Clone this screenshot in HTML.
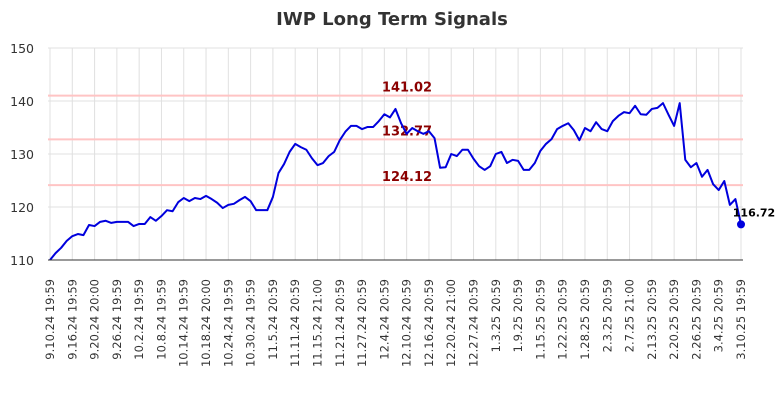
<!DOCTYPE html>
<html><head><meta charset="utf-8"><style>
body{margin:0;background:#fff;}
svg{display:block;font-family:"DejaVu Sans","Liberation Sans",sans-serif;}
</style></head><body>
<svg id="chart" width="784" height="400">
<text x="392" y="25" text-anchor="middle" font-size="18" font-weight="bold" fill="#333">IWP Long Term Signals</text>
<g id="grid"></g><g id="signals"></g><g id="series"></g><g id="axes"></g>
</svg>
<script>
const yTicks=[110,120,130,140,150];
const xLabels=["9.10.24 19:59","9.16.24 19:59","9.20.24 20:00","9.26.24 19:59","10.2.24 19:59","10.8.24 19:59","10.14.24 19:59","10.18.24 20:00","10.24.24 19:59","10.30.24 19:59","11.5.24 20:59","11.11.24 20:59","11.15.24 21:00","11.21.24 20:59","11.27.24 20:59","12.4.24 20:59","12.10.24 20:59","12.16.24 20:59","12.20.24 21:00","12.27.24 20:59","1.3.25 20:59","1.9.25 20:59","1.15.25 20:59","1.22.25 20:59","1.28.25 20:59","2.3.25 20:59","2.7.25 21:00","2.13.25 20:59","2.20.25 20:59","2.26.25 20:59","3.4.25 20:59","3.10.25 19:59"];
const signalValues=[141.02,132.77,124.12];
const prices=[110,111.3,112.3,113.6,114.5,114.9,114.7,116.6,116.4,117.2,117.4,117,117.2,117.2,117.2,116.4,116.8,116.8,118.1,117.4,118.3,119.4,119.2,120.9,121.7,121.1,121.7,121.5,122.1,121.5,120.8,119.8,120.4,120.6,121.3,121.9,121.1,119.4,119.4,119.4,121.9,126.4,128.1,130.4,131.9,131.3,130.8,129.2,127.9,128.3,129.6,130.4,132.6,134.2,135.3,135.3,134.7,135.1,135.1,136.2,137.5,136.9,138.5,135.8,133.8,134.9,134.3,133.8,134.3,133,127.4,127.5,130,129.6,130.8,130.8,129.1,127.7,127,127.7,130,130.4,128.3,128.9,128.7,127,127,128.3,130.6,131.9,132.8,134.7,135.3,135.8,134.5,132.6,134.9,134.3,136,134.7,134.3,136.2,137.2,137.9,137.7,139.1,137.5,137.4,138.5,138.7,139.6,137.4,135.3,139.6,128.9,127.5,128.3,125.7,127,124.3,123.2,124.9,120.4,121.5,116.72];
const X0=50,X1=741,Y0=260,Y1=48,VMIN=110,VMAX=150;
const xi=i=>X0+(X1-X0)*i/(prices.length-1);
const xl=i=>X0+(X1-X0)*i/(xLabels.length-1);
const yv=v=>Y0-(v-VMIN)/(VMAX-VMIN)*(Y0-Y1);
const NS="http://www.w3.org/2000/svg";
function mk(t,a,p){const e=document.createElementNS(NS,t);for(const k in a)e.setAttribute(k,a[k]);p.appendChild(e);return e;}
const grid=document.getElementById('grid'),sig=document.getElementById('signals'),ser=document.getElementById('series'),ax=document.getElementById('axes');
yTicks.forEach(v=>{
 const l=mk('line',{x1:48,x2:743,y1:yv(v),y2:yv(v),stroke:'#e0e0e0','stroke-width':1},grid);
 
 
 const t=mk('text',{x:34,y:yv(v)+5,'text-anchor':'end','font-size':12.5,fill:'#333'},ax);
 t.textContent=v;
 
 
});
xLabels.forEach((s,i)=>{
 const x=xl(i);
 const l=mk('line',{x1:x,x2:x,y1:48,y2:260,stroke:'#e0e0e0','stroke-width':1},grid);
 
 
 const t=mk('text',{x:0,y:0,'text-anchor':'end','font-size':11.5,fill:'#333',transform:`translate(${x+4},279) rotate(-90)`},ax);
 t.textContent=s;
 
 
});
const base=mk('line',{x1:48,x2:743,y1:260,y2:260,stroke:'#333','stroke-width':1},ax);


signalValues.forEach(v=>{
 const l=mk('line',{x1:48,x2:743,y1:yv(v),y2:yv(v),stroke:'#ffc4c4','stroke-width':2},sig);
 
 
});
const pl=mk('polyline',{points:prices.map((v,i)=>xi(i)+','+yv(v)).join(' '),fill:'none',stroke:'#0000dd','stroke-width':2,'stroke-linejoin':'round'},ser);


signalValues.forEach(v=>{
 const t=mk('text',{x:407,y:yv(v)-4,'text-anchor':'middle','font-size':13,'font-weight':'bold',fill:'#8b0000'},sig);
 t.textContent=v.toFixed(2);
 
 
});
const li=prices.length-1;
const dot=mk('circle',{cx:xi(li),cy:yv(prices[li]),r:4,fill:'#0000dd'},ser);


const lt=mk('text',{x:xi(li)+13,y:yv(prices[li])-8,'text-anchor':'middle','font-size':11,'font-weight':'bold',fill:'#000'},ser);
lt.textContent=prices[li].toFixed(2);


</script>
</body></html>
